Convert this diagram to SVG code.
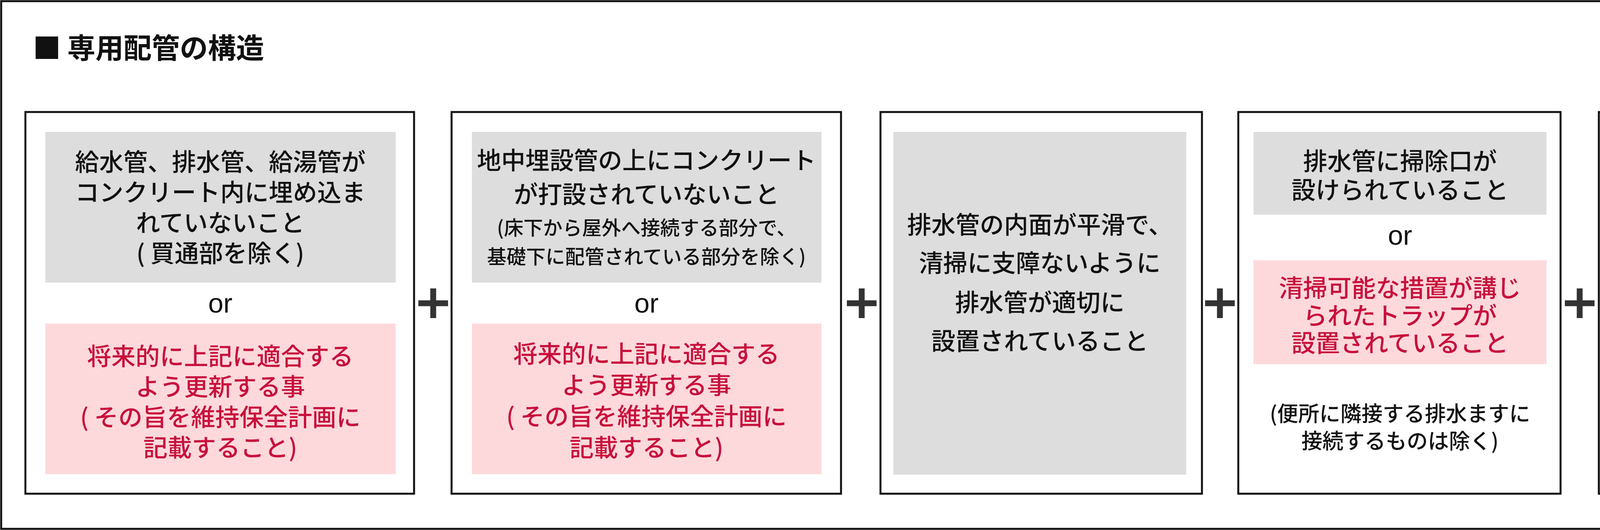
<svg xmlns="http://www.w3.org/2000/svg" width="5000" height="1358" viewBox="0 0 5000 1358">
<style>
text{font-family:"Noto Sans CJK JP","Noto Sans",sans-serif;text-anchor:middle;dominant-baseline:central;font-weight:500}
.frame{fill:#fff;stroke:#111;stroke-width:5}
.gray{fill:#dddddd}
.pink{fill:#fdd9dc}
.t{font-size:62px;fill:#111}
.s{font-size:50px;fill:#111}
.n{font-size:54px;fill:#111}
.r{font-size:62px;fill:#c8103c}
.or{font-size:70px;fill:#111;font-family:"Liberation Sans","Noto Sans",sans-serif}
.plus{stroke:#333;stroke-width:15;fill:none}
</style>
<rect x="3" y="3" width="4994" height="1352" fill="#fff" stroke="#111" stroke-width="5"/>
<text x="84" y="117" style="text-anchor:start;font-size:72px;font-weight:700;fill:#111">■ 専用配管の構造</text>
<g id="box1">
<rect class="frame" x="65" y="287" width="995" height="978"/>
<rect class="gray" x="116" y="338" width="897" height="386"/>
<text class="t" x="564" y="411">給水管、排水管、給湯管が</text>
<text class="t" x="564" y="489">コンクリート内に埋め込ま</text>
<text class="t" x="564" y="567">れていないこと</text>
<text class="t" x="564" y="645">( 買通部を除く)</text>
<text class="or" x="564" y="777">or</text>
<rect class="pink" x="116" y="829" width="897" height="386"/>
<text class="r" x="564" y="909">将来的に上記に適合する</text>
<text class="r" x="564" y="987">よう更新する事</text>
<text class="r" x="564" y="1065">( その旨を維持保全計画に</text>
<text class="r" x="564" y="1143">記載すること)</text>
</g>
<g id="box2">
<rect class="frame" x="1156" y="287" width="997" height="978"/>
<rect class="gray" x="1208" y="338" width="895" height="386"/>
<text class="t" x="1655" y="407">地中埋設管の上にコンクリート</text>
<text class="t" x="1655" y="494">が打設されていないこと</text>
<text class="s" x="1655" y="580">(床下から屋外へ接続する部分で、</text>
<text class="s" x="1655" y="654">基礎下に配管されている部分を除く)</text>
<text class="or" x="1655" y="777">or</text>
<rect class="pink" x="1208" y="829" width="895" height="386"/>
<text class="r" x="1655" y="903">将来的に上記に適合する</text>
<text class="r" x="1655" y="983">よう更新する事</text>
<text class="r" x="1655" y="1063">( その旨を維持保全計画に</text>
<text class="r" x="1655" y="1143">記載すること)</text>
</g>
<g id="box3">
<rect class="frame" x="2254" y="287" width="823" height="978"/>
<rect class="gray" x="2287" y="338" width="750" height="878"/>
<text class="t" x="2662" y="572">排水管の内面が平滑で、</text>
<text class="t" x="2662" y="670">清掃に支障ないように</text>
<text class="t" x="2662" y="771">排水管が適切に</text>
<text class="t" x="2662" y="870">設置されていること</text>
</g>
<g id="box4">
<rect class="frame" x="3170" y="287" width="825" height="978"/>
<rect class="gray" x="3209" y="338" width="750" height="212"/>
<text class="t" x="3584" y="409">排水管に掃除口が</text>
<text class="t" x="3584" y="483">設けられていること</text>
<text class="or" x="3584" y="603">or</text>
<rect class="pink" x="3209" y="667" width="750" height="266"/>
<text class="r" x="3584" y="734">清掃可能な措置が講じ</text>
<text class="r" x="3584" y="805">られたトラップが</text>
<text class="r" x="3584" y="875">設置されていること</text>
<text class="n" x="3584" y="1056">(便所に隣接する排水ますに</text>
<text class="n" x="3584" y="1126">接続するものは除く)</text>
</g>
<g id="box5">
<rect class="frame" x="4093" y="287" width="827" height="978"/>
<rect class="gray" x="4129" y="338" width="750" height="212"/>
<text class="t" x="4504" y="409">主要接合部を点検する</text>
<text class="t" x="4504" y="483">ために必要な開口</text>
<text class="or" x="4504" y="603">or</text>
<rect class="pink" x="4129" y="667" width="750" height="266"/>
<text class="r" x="4504" y="734">排水管の掃除口</text>
<text class="r" x="4504" y="805">による清掃に必要な</text>
<text class="r" x="4504" y="875">開口</text>
<text class="n" x="4504" y="1056">(主要接合等又は掃除口が</text>
<text class="n" x="4504" y="1126">隠蔽されている場合)</text>
</g>
<g id="connectors">
<path class="plus" d="M1071 777H1147M1109 739V815"/>
<path class="plus" d="M2168 777H2244M2206 739V815"/>
<path class="plus" d="M3085 777H3161M3123 739V815"/>
<path class="plus" d="M4006 777H4082M4044 739V815"/>
</g>
</svg>
